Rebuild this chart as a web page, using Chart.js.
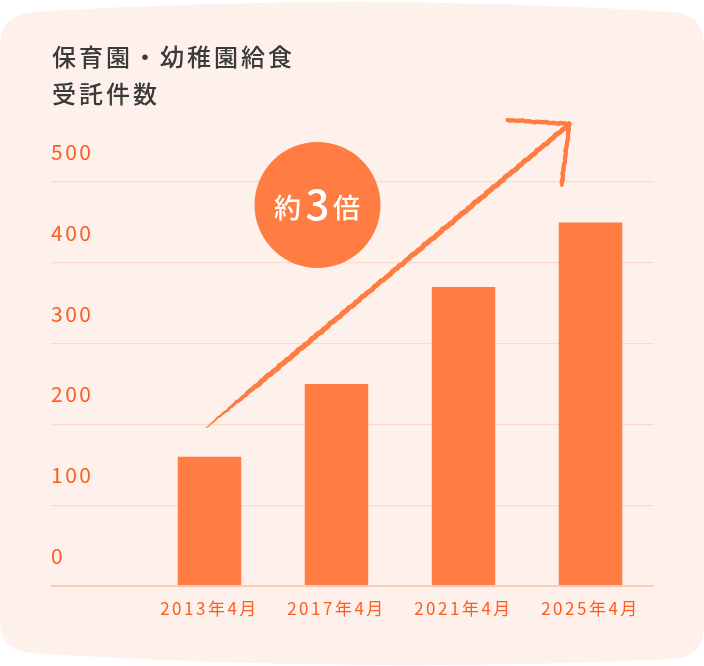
<!DOCTYPE html>
<html>
<head>
<meta charset="utf-8">
<script src="https://cdn.jsdelivr.net/npm/chart.js@4"></script>
<style>
  html, body { margin: 0; padding: 0; background: #ffffff; }
  canvas { display: block; }
</style>
</head>
<body>
<canvas id="c" width="704" height="666" style="width:704px;height:666px"></canvas>
<script>
const categories = ['2013年4月', '2017年4月', '2021年4月', '2025年4月'];
const values = [160, 250, 370, 450];
const yTickValues = [0, 100, 200, 300, 400, 500];
const titleLines = ['保育園・幼稚園給食', '受託件数'];
const badgeParts = ['約', '3', '倍'];

const ORANGE = '#ff7d42';
const TEXT_ORANGE = '#ff5c1f';
const GRID = '#fdd9c9';
const GRID_ZERO = '#fccbb4';
const BG = '#fef1ec';

function roughLine(ctx, ax, ay, bx, by, w0, w1, taper) {
  const dx = bx - ax, dy = by - ay;
  const len = Math.hypot(dx, dy);
  const nx = -dy / len, ny = dx / len;
  const N = Math.max(8, Math.round(len / 3));
  for (let i = 0; i < N; i++) {
    const t0 = i / N, t1 = (i + 1) / N;
    const k = taper ? Math.min(1, t0 * 7) : 1;
    const w = w0 + (w1 - w0) * k;
    const j0 = Math.sin(i * 2.3) * 0.35 + Math.sin(i * 0.9) * 0.25;
    const j1 = Math.sin((i + 1) * 2.3) * 0.35 + Math.sin((i + 1) * 0.9) * 0.25;
    ctx.lineWidth = w + Math.sin(i * 3.1) * 0.6;
    ctx.beginPath();
    ctx.moveTo(ax + dx * t0 + nx * j0, ay + dy * t0 + ny * j0);
    ctx.lineTo(ax + dx * t1 + nx * j1, ay + dy * t1 + ny * j1);
    ctx.stroke();
  }
}

const decor = {
  id: 'decor',
  beforeDraw(chart) {
    const ctx = chart.ctx;
    ctx.save();
    ctx.fillStyle = '#ffffff';
    ctx.fillRect(0, 0, chart.width, chart.height);
    ctx.fillStyle = BG;
    ctx.beginPath();
    ctx.moveTo(0, 46);
    ctx.quadraticCurveTo(0, 14, 34, 12);
    ctx.quadraticCurveTo(352, -8, 672, 12);
    ctx.quadraticCurveTo(704, 14, 704, 46);
    ctx.lineTo(704, 626);
    ctx.quadraticCurveTo(704, 657, 674, 659);
    ctx.quadraticCurveTo(352, 674, 30, 653);
    ctx.quadraticCurveTo(0, 650, 0, 622);
    ctx.closePath();
    ctx.fill();
    ctx.restore();
    ctx.letterSpacing = '2.5px';
  },
  beforeDatasetsDraw(chart) {
    chart.ctx.letterSpacing = '0px';
  },
  afterDraw(chart) {
    const ctx = chart.ctx;
    const xs = chart.scales.x, ys = chart.scales.y;
    ctx.save();
    ctx.letterSpacing = '0px';

    // Title
    ctx.fillStyle = '#3a3a3a';
    ctx.font = '500 24px "Noto Sans CJK JP", sans-serif';
    ctx.textBaseline = 'middle';
    ctx.textAlign = 'left';
    ctx.letterSpacing = '3px';
    ctx.fillText(titleLines[0], 52, 57);
    ctx.fillText(titleLines[1], 52, 94);
    ctx.letterSpacing = '0px';

    // Arrow (hand drawn look)
    const x0 = xs.getPixelForValue(0) - 3, y0 = ys.getPixelForValue(200) + 3;
    const x1 = xs.getPixelForValue(3) - 21, y1 = ys.getPixelForValue(500) - 58;
    ctx.strokeStyle = ORANGE;
    ctx.lineCap = 'round';
    roughLine(ctx, x0, y0, x1, y1, 1.2, 4.8, true);
    roughLine(ctx, x1 - 62, y1 - 4, x1, y1, 4.2, 4.2, false);
    roughLine(ctx, x1, y1, x1 - 8, y1 + 61, 4.2, 4.2, false);

    // Badge
    const cx = chart.chartArea.left + 171.5, cy = ys.getPixelForValue(500) + 23;
    ctx.fillStyle = ORANGE;
    ctx.beginPath();
    ctx.arc(cx, cy, 63, 0, Math.PI * 2);
    ctx.fill();
    ctx.fillStyle = '#ffffff';
    ctx.textAlign = 'center';
    ctx.textBaseline = 'middle';
    ctx.font = '500 27px "Noto Sans CJK JP", sans-serif';
    ctx.fillText(badgeParts[0], cx - 30, cy + 3);
    ctx.font = '500 42px "Noto Sans CJK JP", sans-serif';
    ctx.fillText(badgeParts[1], cx, cy - 1);
    ctx.font = '500 27px "Noto Sans CJK JP", sans-serif';
    ctx.fillText(badgeParts[2], cx + 29, cy + 3);
    ctx.restore();
  }
};

const gridColor = (c) => (c.tick && c.tick.value === 0 ? GRID_ZERO : GRID);
const gridWidth = (c) => (c.tick && c.tick.value === 0 ? 2 : 1.2);

new Chart(document.getElementById('c'), {
  type: 'bar',
  data: {
    labels: categories,
    datasets: [{
      data: values,
      backgroundColor: ORANGE,
      borderWidth: 0,
      barPercentage: 0.5,
      categoryPercentage: 1.0
    }]
  },
  options: {
    responsive: false,
    animation: false,
    devicePixelRatio: 1,
    layout: { padding: { left: 51, right: 50, top: 182, bottom: 40 } },
    plugins: { legend: { display: false }, tooltip: { enabled: false }, title: { display: false } },
    scales: {
      x: {
        type: 'category',
        grid: { display: false, drawTicks: false },
        border: { display: false },
        ticks: {
          color: TEXT_ORANGE,
          font: { family: '"Noto Sans CJK JP", sans-serif', size: 17, weight: '400' },
          padding: 12,
          maxRotation: 0
        },
        afterFit(s) { s.height = 40; }
      },
      y: {
        min: 0,
        max: 500,
        afterBuildTicks(s) { s.ticks = yTickValues.map(v => ({ value: v })); },
        grid: {
          color: gridColor,
          lineWidth: gridWidth,
          tickColor: gridColor,
          tickWidth: gridWidth,
          drawTicks: true,
          tickLength: 95
        },
        border: { display: false },
        ticks: {
          color: TEXT_ORANGE,
          font: { family: '"Noto Sans CJK JP", sans-serif', size: 21, weight: '400' },
          crossAlign: 'far',
          labelOffset: -30,
          padding: 0,
          callback: (v) => String(v)
        },
        afterFit(s) { s.width = 95; }
      }
    }
  },
  plugins: [decor]
});
</script>
</body>
</html>
